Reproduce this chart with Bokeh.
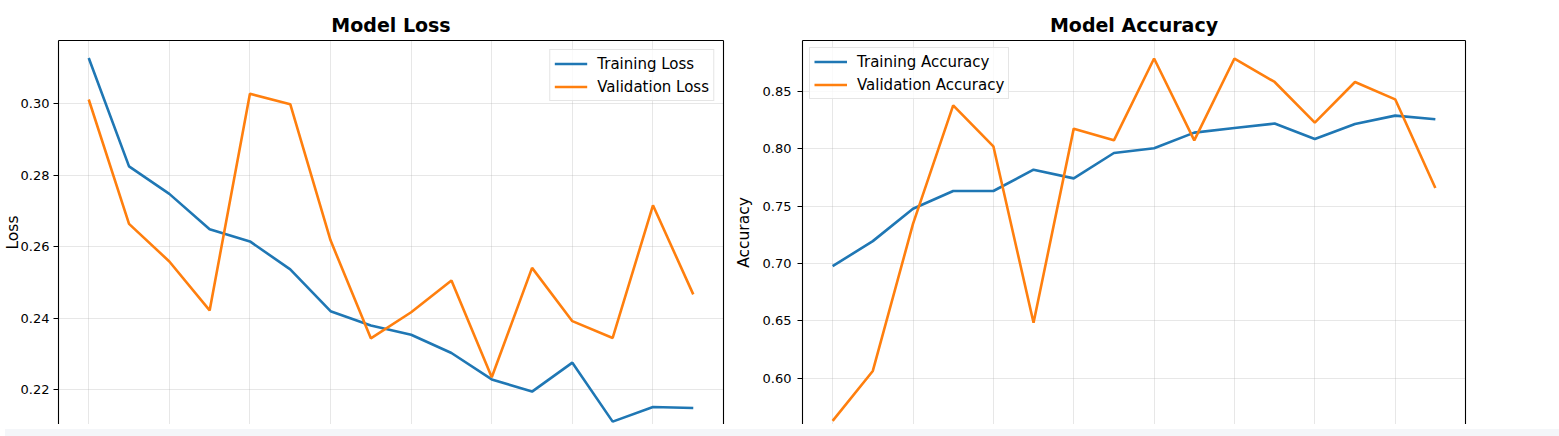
from bokeh.plotting import figure
from bokeh.models import (Range1d, LinearAxis, FixedTicker, SingleIntervalTicker,
                          Legend, LegendItem, NumeralTickFormatter, Div)
from bokeh.layouts import row, column
from bokeh.embed import file_html
from bokeh.resources import INLINE

epochs = list(range(16))
train_loss = [0.3128, 0.2825, 0.2748, 0.2649, 0.2615, 0.2537, 0.2420, 0.2380,
              0.2354, 0.2303, 0.2229, 0.2195, 0.2276, 0.2111, 0.2152, 0.2149]
val_loss = [0.3012, 0.2664, 0.2559, 0.2422, 0.3028, 0.2999, 0.2618, 0.2344,
            0.2417, 0.2506, 0.2235, 0.2541, 0.2392, 0.2345, 0.2716, 0.2467]
train_acc = [0.6977, 0.7195, 0.7477, 0.7631, 0.7631, 0.7817, 0.7741, 0.7962,
             0.8003, 0.8139, 0.8179, 0.8218, 0.8084, 0.8214, 0.8287, 0.8255]
val_acc = [0.5630, 0.6065, 0.7345, 0.8377, 0.8020, 0.6484, 0.8174, 0.8072,
           0.8784, 0.8072, 0.8784, 0.8580, 0.8226, 0.8580, 0.8429, 0.7657]
loss_ticks = [0.22, 0.24, 0.26, 0.28, 0.30]
acc_ticks = [0.60, 0.65, 0.70, 0.75, 0.80, 0.85]

BLUE = "#1f77b4"
ORANGE = "#ff7f0e"
FONT = "DejaVu Sans"


def make_fig(title, width, ylab, yr, yticks, series, names, legend_loc,
             border_left, border_right, tick_standoff, label_standoff, legend_margin):
    p = figure(width=width, height=424, output_backend="svg", toolbar_location=None,
               x_range=Range1d(-0.75, 15.75), y_range=Range1d(*yr),
               min_border_left=border_left, min_border_right=border_right,
               min_border_top=40, min_border_bottom=0)
    p.outline_line_color = None
    p.background_fill_color = "white"
    p.border_fill_color = "white"

    p.title.text = title
    p.title.align = "center"
    p.title.text_font = FONT
    p.title.text_font_size = "19px"
    p.title.text_font_style = "bold"
    p.title.text_color = "black"
    p.title.standoff = 9

    p.xaxis.visible = False
    p.xgrid.ticker = SingleIntervalTicker(interval=2)
    p.xgrid.grid_line_color = "#b0b0b0"
    p.xgrid.grid_line_alpha = 0.3
    p.ygrid.grid_line_color = "#b0b0b0"
    p.ygrid.grid_line_alpha = 0.3

    ya = p.yaxis[0]
    ya.ticker = FixedTicker(ticks=yticks)
    ya.formatter = NumeralTickFormatter(format="0.00")
    ya.axis_label = ylab
    ya.axis_label_text_font = FONT
    ya.axis_label_text_font_size = "15.5px"
    ya.axis_label_text_font_style = "normal"
    ya.axis_label_text_color = "black"
    ya.axis_label_standoff = label_standoff
    ya.major_label_text_font = FONT
    ya.major_label_text_font_size = "13px"
    ya.major_label_text_color = "black"
    ya.major_label_standoff = tick_standoff
    ya.major_tick_out = 5
    ya.major_tick_in = 0
    ya.minor_tick_line_color = None
    ya.axis_line_color = "black"
    ya.axis_line_width = 1.1
    ya.major_tick_line_color = "black"

    for loc in ("above", "right"):
        ax = LinearAxis(ticker=FixedTicker(ticks=[]), axis_line_color="black",
                        axis_line_width=1.1, major_tick_line_color=None,
                        minor_tick_line_color=None, major_tick_out=0,
                        major_tick_in=0, minor_tick_out=0, minor_tick_in=0)
        p.add_layout(ax, loc)

    items = []
    for ys, color, name in zip(series, (BLUE, ORANGE), names):
        r = p.line(epochs, ys, line_color=color, line_width=2.6)
        items.append(LegendItem(label=name, renderers=[r]))

    leg = Legend(items=items, location=legend_loc)
    leg.label_text_font = FONT
    leg.label_text_font_size = "15px"
    leg.label_text_color = "black"
    leg.glyph_width = 33
    leg.glyph_height = 19
    leg.label_height = 19
    leg.spacing = 4
    leg.padding = 4
    leg.margin = legend_margin
    leg.label_standoff = 10
    leg.border_line_color = "#cccccc"
    leg.border_line_width = 1
    leg.background_fill_alpha = 0.8
    p.add_layout(leg, "center")
    return p


p1 = make_fig("Model Loss", 731, "Loss", (0.2103, 0.3177), loss_ticks,
              (train_loss, val_loss), ("Training Loss", "Validation Loss"),
              "top_right", 58, 8, 4, -4, 9)
p2 = make_fig("Model Accuracy", 754, "Accuracy", (0.5599, 0.8941), acc_ticks,
              (train_acc, val_acc), ("Training Accuracy", "Validation Accuracy"),
              "top_left", 71, 20, 6, 7, 7)

strip = Div(text="", width=1559, height=12,
            styles={"background-color": "#f4f6f9"})

layout = column(row(p1, p2, spacing=0), strip, spacing=0)
open("out.html", "w").write(file_html(layout, INLINE))
